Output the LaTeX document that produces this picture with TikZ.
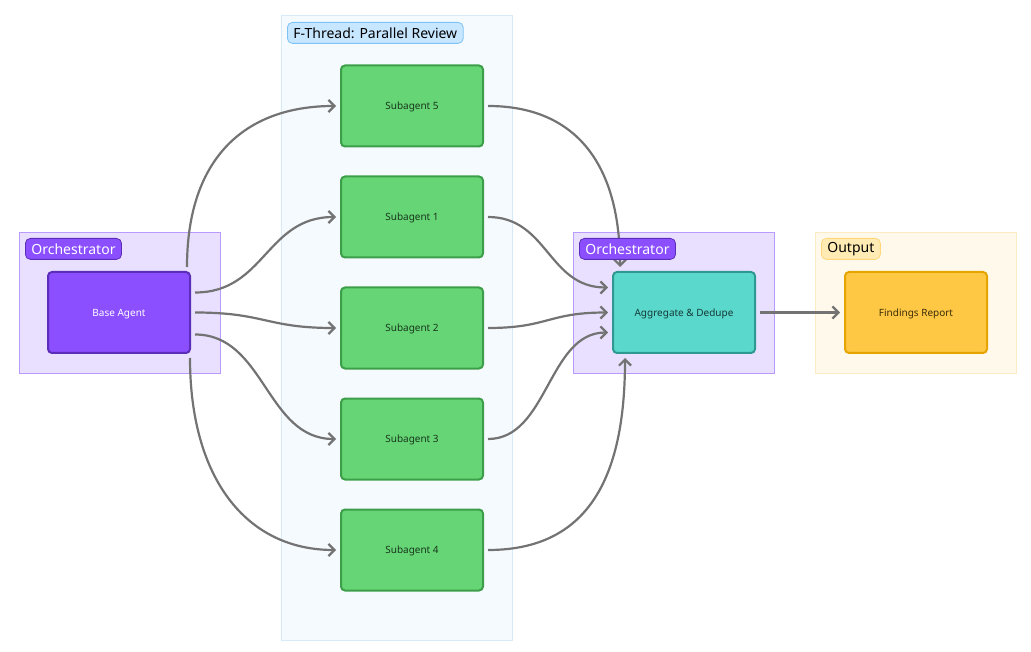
\documentclass[tikz,border=0pt]{standalone}
\usepackage{fontspec}
\setmainfont{Noto Sans}
\usetikzlibrary{arrows.meta, positioning}
\definecolor{orchfill}{RGB}{233, 224, 255}
\definecolor{orchline}{RGB}{185, 155, 255}
\definecolor{orchtag}{RGB}{139, 79, 255}
\definecolor{orchdark}{RGB}{91, 45, 184}
\definecolor{threadfill}{RGB}{245, 250, 255}
\definecolor{threadline}{RGB}{213, 235, 250}
\definecolor{threadtag}{RGB}{199, 230, 255}
\definecolor{threadtagline}{RGB}{126, 195, 245}
\definecolor{subfill}{RGB}{102, 213, 117}
\definecolor{subline}{RGB}{61, 158, 74}
\definecolor{subtext}{RGB}{25, 55, 30}
\definecolor{aggfill}{RGB}{90, 216, 204}
\definecolor{aggline}{RGB}{46, 153, 144}
\definecolor{aggtext}{RGB}{22, 58, 55}
\definecolor{outfill}{RGB}{255, 249, 235}
\definecolor{outline}{RGB}{253, 235, 196}
\definecolor{outtag}{RGB}{255, 235, 179}
\definecolor{outtagline}{RGB}{255, 215, 122}
\definecolor{repfill}{RGB}{255, 200, 68}
\definecolor{repline}{RGB}{230, 164, 0}
\definecolor{reptext}{RGB}{60, 45, 10}
\definecolor{flowgray}{RGB}{115, 115, 115}

\begin{document}
\begin{tikzpicture}[
    x=1pt, y=-1pt,
    >={Straight Barb[length=6pt, width=12pt]},
    groupbox/.style={line width=0.8pt, minimum width=201pt, minimum height=141pt, inner sep=0pt},
    tagbox/.style={anchor=north west, rounded corners=5pt, line width=0.8pt,
        font=\fontsize{14}{16}\selectfont, inner xsep=6pt, inner ysep=0pt,
        minimum height=21pt},
    card/.style={rounded corners=4pt, line width=2pt, minimum width=142pt,
        minimum height=81pt, outer sep=5pt, text depth=0pt,
        font=\fontsize{10}{12}\selectfont},
    agentcard/.style={card, draw=orchdark, fill=orchtag, text=white},
    subcard/.style={card, draw=subline, fill=subfill, text=subtext},
    aggcard/.style={card, draw=aggline, fill=aggfill, text=aggtext},
    repcard/.style={card, draw=repline, fill=repfill, text=reptext},
    flow/.style={->, line width=2.2pt, flowgray}
]
    \useasboundingbox (0,0) rectangle (1031,652);

    % groups
    \node[groupbox, draw=threadline, fill=threadfill, minimum width=231pt, minimum height=625pt] (thread) at (396.5,327.5) {};
    \node[groupbox, draw=orchline, fill=orchfill] (orchL) at (119.5,302.5) {};
    \node[groupbox, draw=orchline, fill=orchfill] (orchR) at (673.5,302.5) {};
    \node[groupbox, draw=outline, fill=outfill] (outgrp) at (915.5,302.5) {};

    % cards
    \node[agentcard] (base) at (119,312.5) {Base Agent};
    \node[subcard] (s5) at (412,106) {Subagent 5};
    \node[subcard] (s1) at (412,217) {Subagent 1};
    \node[subcard] (s2) at (412,328) {Subagent 2};
    \node[subcard] (s3) at (412,439) {Subagent 3};
    \node[subcard] (s4) at (412,550) {Subagent 4};
    \node[aggcard] (agg) at (684,312.5) {Aggregate \& Dedupe};
    \node[repcard] (report) at (916,312.5) {Findings Report};

    % fan out
    \draw[flow] ([xshift=-8pt]base.north east) .. controls +(0,-110) and +(-90,0) .. (s5.west);
    \draw[flow] ([yshift=20pt]base.east) .. controls +(70,0) and +(-70,0) .. (s1.west);
    \draw[flow] (base.east) .. controls +(70,0) and +(-70,0) .. (s2.west);
    \draw[flow] ([yshift=-22pt]base.east) .. controls +(70,0) and +(-70,0) .. (s3.west);
    \draw[flow] ([xshift=-5pt]base.south east) .. controls +(0,120) and +(-90,0) .. (s4.west);

    % fan in
    \draw[flow] (s5.east) .. controls +(90,0) and +(0,-100) .. ([xshift=12pt]agg.north west);
    \draw[flow] (s1.east) .. controls +(60,0) and +(-60,0) .. ([yshift=25pt]agg.west);
    \draw[flow] (s2.east) .. controls +(60,0) and +(-60,0) .. (agg.west);
    \draw[flow] (s3.east) .. controls +(60,0) and +(-60,0) .. ([yshift=-20pt]agg.west);
    \draw[flow] (s4.east) .. controls +(100,0) and +(0,120) .. ([xshift=17pt]agg.south west);
    \draw[flow] (agg.east) -- (report.west);

    % tags
    \node[tagbox, draw=threadtagline, fill=threadtag, text=black] (threadtag) at (287,22) {F-Thread: Parallel Review};
    \node[tagbox, draw=orchdark, fill=orchtag, text=white] (orchLtag) at (25,238) {Orchestrator};
    \node[tagbox, draw=orchdark, fill=orchtag, text=white] (orchRtag) at (579,238) {Orchestrator};
    \node[tagbox, draw=outtagline, fill=outtag, text=black] (outtag) at (821,238) {Output};
\end{tikzpicture}
\end{document}
